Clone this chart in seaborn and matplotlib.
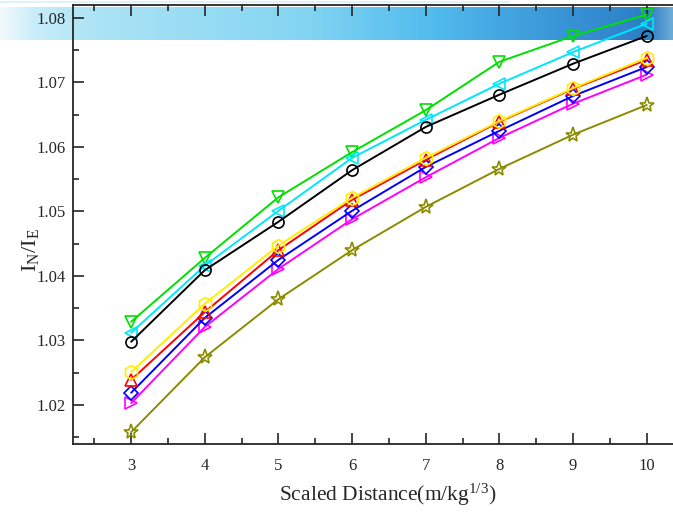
import numpy as np
import pandas as pd
import matplotlib
matplotlib.use("Agg")
import matplotlib.pyplot as plt
from matplotlib.colors import LinearSegmentedColormap
from matplotlib.ticker import MultipleLocator
import seaborn as sns

sns.set_style("ticks")
plt.rcParams['font.family'] = ['Liberation Serif', 'DejaVu Serif']
plt.rcParams['mathtext.fontset'] = 'custom'
plt.rcParams['mathtext.rm'] = 'Liberation Serif'
plt.rcParams['mathtext.it'] = 'Liberation Serif'

x_vals = [3, 4, 5, 6, 7, 8, 9, 10]
green_v = [1.0329, 1.0428, 1.0522, 1.0592, 1.0657, 1.0732, 1.0772, 1.0805]
cyan_l = [1.0312, 1.0416, 1.0501, 1.0583, 1.0642, 1.0698, 1.0747, 1.0791]
black_o = [1.0298, 1.0409, 1.0484, 1.0564, 1.0631, 1.0681, 1.0729, 1.0772]
yellow_h = [1.0251, 1.0357, 1.0447, 1.0521, 1.0583, 1.0640, 1.0691, 1.0738]
red_up = [1.0239, 1.0344, 1.0440, 1.0518, 1.0580, 1.0639, 1.0690, 1.0735]
blue_d = [1.0219, 1.0335, 1.0425, 1.0501, 1.0569, 1.0625, 1.0679, 1.0724]
magenta_r = [1.0203, 1.0321, 1.0411, 1.0488, 1.0553, 1.0614, 1.0667, 1.0712]
olive_s = [1.0158, 1.0274, 1.0364, 1.0440, 1.0507, 1.0566, 1.0619, 1.0665]

series = [
    (green_v, '#00e000', 'v', 9),
    (cyan_l, '#00e5ff', '<', 9),
    (black_o, '#000000', 'o', 8),
    (magenta_r, '#ff00ff', '>', 9),
    (blue_d, '#0000ff', 'D', 7),
    (red_up, '#ff0000', '^', 9),
    (yellow_h, '#ffee00', 'h', 10),
    (olive_s, '#8b8b00', '*', 11),
]

fig = plt.figure(figsize=(6.73, 5.12), dpi=100)

# decorative banner
bax = fig.add_axes([0, 1 - 40/512, 1, 33/512], zorder=0)
stops = [(0.0, '#f2fafd'), (0.05, '#c8edf8'), (0.15, '#aae3f5'), (0.45, '#84d5f2'),
         (0.64, '#52bcee'), (0.83, '#3996d8'), (0.965, '#2d7ec4'), (1.0, '#6aaad6')]
cmap = LinearSegmentedColormap.from_list('banner', stops)
grad = np.linspace(0, 1, 512)[None, :]
bax.imshow(grad, aspect='auto', cmap=cmap, extent=[0, 1, 0, 1])
bax.axis('off')
# thin pale strip at very top
sax = fig.add_axes([0, 1 - 3/512, 510/673, 2.5/512], zorder=0)
sax.set_facecolor('#dff2fa')
sax.set_xticks([]); sax.set_yticks([])
for s in sax.spines.values():
    s.set_visible(False)

ax = fig.add_axes([73/673, 1 - 444/512, 640/673, 439/512], zorder=1)
ax.patch.set_alpha(0)

for vals, color, mk, ms in series:
    df = pd.DataFrame({'x': x_vals, 'y': vals})
    sns.lineplot(data=df, x='x', y='y', ax=ax, color=color, lw=1.4,
                 marker=mk, markersize=ms, markerfacecolor='none',
                 markeredgecolor=color, markeredgewidth=1.2)

ax.set_xlim(2.21, 10.9)
ax.set_ylim(1.01395, 1.082)
ax.xaxis.set_minor_locator(MultipleLocator(0.5))
ax.yaxis.set_major_locator(MultipleLocator(0.01))
ax.yaxis.set_minor_locator(MultipleLocator(0.005))
ax.set_xticks(x_vals)
ax.set_xticklabels([str(v) for v in x_vals])
ax.yaxis.set_major_formatter(matplotlib.ticker.FormatStrFormatter('%.2f'))
ax.tick_params(which='both', direction='in', top=True, right=False, labelsize=12, width=1.2)
ax.tick_params(which='major', length=8)
ax.tick_params(which='minor', length=4)
ax.tick_params(axis='x', pad=10)
ax.tick_params(axis='y', pad=5)
for s in ['left', 'bottom', 'top']:
    ax.spines[s].set_linewidth(1.3)
ax.spines['right'].set_visible(False)

ax.set_xlabel('Scaled Distance(m/kg$^{1/3}$)', fontsize=15.5)
ax.set_ylabel(r'I$_{\mathregular{N}}$/I$_{\mathregular{E}}$', fontsize=16)
ax.xaxis.set_label_coords((388 - 73) / 640, -(482 - 444) / 439)
ax.yaxis.set_label_coords((41 - 73) / 640, 1 - (250 - 5) / 439)

fig.savefig('out.png', dpi=100)
